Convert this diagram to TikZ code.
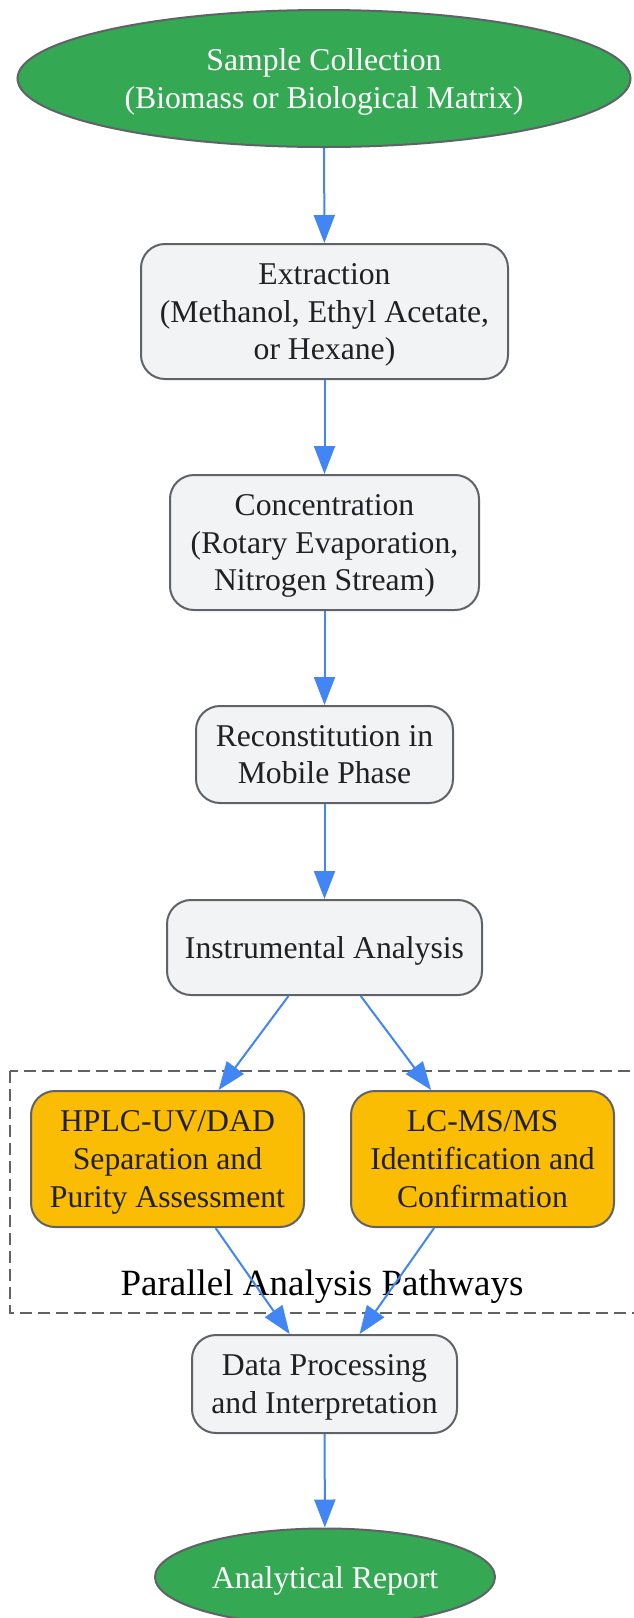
\documentclass[tikz,border=0pt]{standalone}
\usepackage{fontspec}
\setmainfont{Liberation Serif}
\usetikzlibrary{shapes.geometric,arrows.meta}
\definecolor{ggreen}{HTML}{34A853}
\definecolor{gyellow}{HTML}{FBBC04}
\definecolor{glight}{HTML}{F1F3F4}
\definecolor{gborder}{HTML}{5F6368}
\definecolor{gtext}{HTML}{202124}
\definecolor{gblue}{HTML}{4285F4}
\tikzset{
  base/.style={draw=gborder, line width=2pt, align=center, inner sep=0pt, text depth=0pt,
    font=\fontsize{31.7}{37.7}\selectfont},
  term/.style={base, ellipse, fill=ggreen, text=white},
  proc/.style={base, rectangle, rounded corners=24pt, fill=glight, text=gtext},
  anal/.style={base, rectangle, rounded corners=24pt, fill=gyellow, text=gtext},
  arr/.style={draw=gblue, line width=2pt, -{Triangle[length=28pt,width=21pt]}},
  clusterbox/.style={draw=gborder, line width=2.6pt, dash pattern=on 12pt off 6pt}
}
\begin{document}
\begin{tikzpicture}[x=1pt,y=-1pt]
\useasboundingbox (0,0) rectangle (633,1618);
\fill[white] (0,0) rectangle (633,1618);
% cluster
\draw[clusterbox] (10,1071) rectangle (645,1313);
\node[text=black, font=\fontsize{37}{44}\selectfont, text depth=0pt, inner sep=0pt, anchor=center] (clabel) at (322,1283) {Parallel Analysis Pathways};
% nodes
\node[term, minimum width=613pt, minimum height=137pt] (sample) at (324,78.5) {Sample Collection\\(Biomass or Biological Matrix)};
\node[proc, minimum width=367pt, minimum height=135pt] (extr) at (324.5,311.5) {Extraction\\(Methanol, Ethyl Acetate,\\or Hexane)};
\node[proc, minimum width=309pt, minimum height=135pt] (conc) at (324.5,542.5) {Concentration\\(Rotary Evaporation,\\Nitrogen Stream)};
\node[proc, minimum width=257pt, minimum height=97pt] (recon) at (324.5,754.5) {Reconstitution in\\Mobile Phase};
\node[proc, minimum width=315pt, minimum height=95pt] (instr) at (324.5,947.5) {Instrumental Analysis};
\node[anal, minimum width=273pt, minimum height=136pt] (hplc) at (167.5,1159) {HPLC-UV/DAD\\Separation and\\Purity Assessment};
\node[anal, minimum width=263pt, minimum height=136pt] (lcms) at (482.5,1159) {LC-MS/MS\\Identification and\\Confirmation};
\node[proc, minimum width=265pt, minimum height=98pt] (data) at (324.5,1384) {Data Processing\\and Interpretation};
\node[term, minimum width=340pt, minimum height=97pt] (report) at (325,1577) {Analytical Report};
% edges
\draw[arr] (sample) -- (extr);
\draw[arr] (extr) -- (conc);
\draw[arr] (conc) -- (recon);
\draw[arr] (recon) -- (instr);
\draw[arr] (instr) -- (hplc);
\draw[arr] (instr) -- (lcms);
\draw[arr] (hplc) -- (data);
\draw[arr] (lcms) -- (data);
\draw[arr] (data) -- (report);
\end{tikzpicture}
\end{document}
